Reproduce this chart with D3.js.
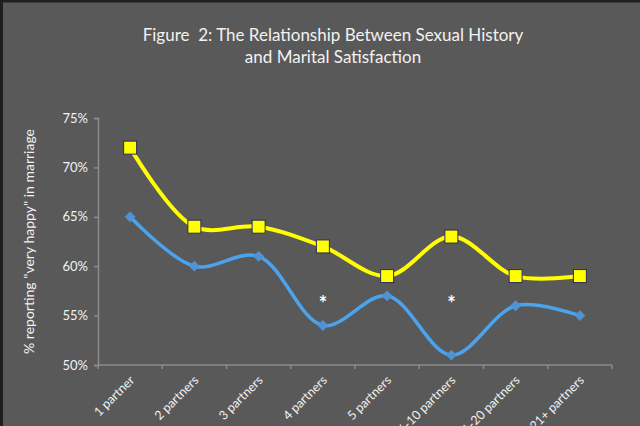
<!DOCTYPE html>
<html lang="en">
<head>
    <meta charset="UTF-8">
    <script src="https://cdn.jsdelivr.net/npm/d3@7"></script>
    <title>Figure 2</title>
    <style>
        html, body {
            margin: 0;
            padding: 0;
            background: #595959;
        }
        svg {
            display: block;
            font-family: Lato, 'Open Sans', sans-serif;
        }
        .title {
            white-space: pre;
        }
    </style>
</head>
<body>
<div id="chart"></div>
<script>
    // Chart data
    const categories = ["1 partner", "2 partners", "3 partners", "4 partners", "5 partners",
        "6-10 partners", "11-20 partners", "21+ partners"];
    const yellowValues = [72, 64, 64, 62, 59, 63, 59, 59];
    const blueValues = [65, 60, 61, 54, 57, 51, 56, 55];
    const starCategories = ["4 partners", "6-10 partners"];
    const starValue = 56.6;
    const yTicks = [50, 55, 60, 65, 70, 75];
    const titleLines = ["Figure  2: The Relationship Between Sexual History", "and Marital Satisfaction"];

    const width = 640, height = 426;
    const margin = {left: 98, right: 28, top: 118, bottom: 61};

    const svg = d3.select("#chart").append("svg")
        .attr("width", width)
        .attr("height", height);

    svg.append("rect")
        .attr("width", width)
        .attr("height", height)
        .attr("fill", "#595959");

    // dark frame on the top and left edges
    svg.append("path")
        .attr("d", `M1.5,${height} V1 H${width}`)
        .attr("fill", "none")
        .attr("stroke", "#1e1e1e")
        .attr("stroke-width", 3);

    const x = d3.scaleBand()
        .domain(categories)
        .range([margin.left, width - margin.right]);

    const y = d3.scaleLinear()
        .domain([50, 75])
        .range([height - margin.bottom, margin.top]);

    // title
    svg.append("text")
        .attr("class", "title")
        .attr("x", 333)
        .attr("y", 41)
        .attr("text-anchor", "middle")
        .attr("fill", "#f2f2f2")
        .attr("font-size", 17)
        .selectAll("tspan")
        .data(titleLines)
        .join("tspan")
        .attr("x", 333)
        .attr("dy", (d, i) => i === 0 ? 0 : 22)
        .text(d => d);

    // y axis
    const yAxis = svg.append("g")
        .attr("transform", `translate(${margin.left},0)`)
        .call(d3.axisLeft(y).tickValues(yTicks).tickSize(4).tickFormat(d => d + "%"));
    yAxis.select(".domain").attr("stroke", "#8c8c8c").attr("stroke-width", 1.5);
    yAxis.selectAll(".tick line").attr("stroke", "#8c8c8c").attr("stroke-width", 1.5);
    yAxis.selectAll(".tick text")
        .attr("fill", "#f2f2f2")
        .attr("font-size", 13)
        .attr("font-family", "Lato, 'Open Sans', sans-serif")
        .attr("x", -10);

    // x axis
    const xAxis = svg.append("g")
        .attr("transform", `translate(0,${height - margin.bottom})`);
    xAxis.append("line")
        .attr("x1", margin.left)
        .attr("x2", width - margin.right)
        .attr("stroke", "#8c8c8c")
        .attr("stroke-width", 1.5);
    const bounds = categories.map(c => x(c)).concat([x.range()[1]]);
    xAxis.selectAll("line.tk")
        .data(bounds)
        .join("line")
        .attr("class", "tk")
        .attr("x1", d => d)
        .attr("x2", d => d)
        .attr("y1", 0)
        .attr("y2", 4)
        .attr("stroke", "#8c8c8c")
        .attr("stroke-width", 1.5);
    xAxis.selectAll("text")
        .data(categories)
        .join("text")
        .attr("transform", d => `translate(${x(d) + x.bandwidth() / 2 + 5},${16}) rotate(-45)`)
        .attr("text-anchor", "end")
        .attr("fill", "#f2f2f2")
        .attr("font-size", 12.5)
        .text(d => d);

    // y axis title
    svg.append("text")
        .attr("transform", `translate(34,${(margin.top + height - margin.bottom) / 2}) rotate(-90)`)
        .attr("text-anchor", "middle")
        .attr("fill", "#f2f2f2")
        .attr("font-size", 14)
        .text("% reporting \"very happy\" in marriage");

    const cx = c => x(c) + x.bandwidth() / 2;
    const line = d3.line()
        .x((d, i) => cx(categories[i]))
        .y(d => y(d))
        .curve(d3.curveCatmullRom.alpha(0.5));

    // yellow series
    svg.append("path")
        .datum(yellowValues)
        .attr("d", line)
        .attr("fill", "none")
        .attr("stroke", "#ffff00")
        .attr("stroke-width", 4);

    svg.selectAll("rect.sq")
        .data(yellowValues)
        .join("rect")
        .attr("class", "sq")
        .attr("x", (d, i) => cx(categories[i]) - 6.5)
        .attr("y", d => y(d) - 6.5)
        .attr("width", 13)
        .attr("height", 13)
        .attr("fill", "#ffff00")
        .attr("stroke", "#2b2b5a")
        .attr("stroke-width", 1);

    // blue series
    svg.append("path")
        .datum(blueValues)
        .attr("d", line)
        .attr("fill", "none")
        .attr("stroke", "#4aa3ec")
        .attr("stroke-width", 3.5);

    const diamond = d3.symbol().type(d3.symbolDiamond2).size(75);
    svg.selectAll("path.dm")
        .data(blueValues)
        .join("path")
        .attr("class", "dm")
        .attr("d", diamond)
        .attr("transform", (d, i) => `translate(${cx(categories[i])},${y(d)})`)
        .attr("fill", "#4f93d6");

    // significance markers
    svg.selectAll("text.star")
        .data(starCategories)
        .join("text")
        .attr("class", "star")
        .attr("x", d => cx(d))
        .attr("y", y(starValue) + 11)
        .attr("text-anchor", "middle")
        .attr("fill", "#ffffff")
        .attr("font-size", 20)
        .attr("font-weight", "bold")
        .text("*");
</script>
</body>
</html>
